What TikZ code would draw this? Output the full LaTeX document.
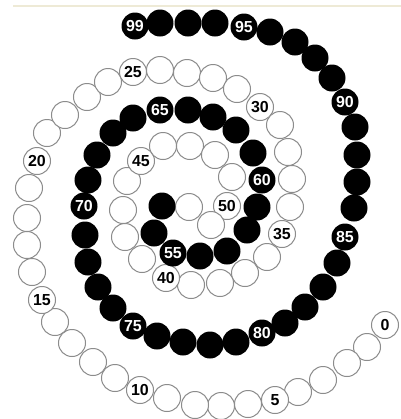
\documentclass[tikz,border=0pt]{standalone}
\usepackage{fontspec}
\setmainfont{Liberation Sans}
\definecolor{cream}{RGB}{238,234,214}

\begin{document}
\begin{tikzpicture}[x=1bp, y=-1bp,
    bead/.style={circle, minimum size=27bp, inner sep=0pt,
      font=\fontsize{16}{16}\selectfont\bfseries},
    lightbead/.style={bead, draw=gray!90, line width=1bp, fill=white, text=black},
    darkbead/.style={bead, fill=black, text=white}]
    \useasboundingbox (0,0) rectangle (401,419);

    % Linija viršuje
    \draw[cream, line width=1.5bp] (13,6) -- (401,6);

    % Balti karoliukai 0--52
    \foreach \px/\py [count=\n from 0] in {385/325, 367/347, 347/363, 323/380, 298/392,
        275/400, 248/404, 221/406, 195/405, 167/398, 140/390, 115/378, 93/362, 72/343,
        55/322, 42/300, 32/272, 27/245, 27/218, 29/188, 37/161, 47/133, 65/115, 87/97,
        108/82, 133/72, 160/70, 187/73, 213/78, 237/89, 260/107, 280/125, 288/152,
        292/179, 290/207, 282/234, 267/257, 245/273, 220/283, 191/285, 166/278,
        142/259, 125/237, 123/210, 127/181, 141/161, 163/146, 190/146, 215/155,
        232/177, 227/206, 211/225, 189/207} {
      \pgfmathtruncatemacro\r{mod(\n,5)}
      \ifnum\r=0 \def\lab{\n}\else\def\lab{}\fi
      \node[lightbead] (b\n) at (\px,\py) {\lab};
    }

    % Juodi karoliukai 53--99
    \foreach \px/\py [count=\n from 53] in {162/206, 154/233, 173/253, 200/256,
        227/251, 247/230, 257/207, 262/180, 253/153, 236/130, 213/117, 188/110,
        160/110, 133/118, 113/133, 97/155, 88/180, 84/206, 85/235, 88/262, 98/287,
        113/308, 133/326, 157/336, 183/342, 210/345, 236/342, 262/333, 285/323,
        305/307, 323/287, 337/263, 345/237, 354/208, 357/182, 357/155, 355/127,
        345/102, 332/78, 315/58, 295/42, 270/32, 244/27, 215/23, 188/23, 160/23,
        135/26} {
      \pgfmathtruncatemacro\r{mod(\n,5)}
      \ifnum\r=0 \def\lab{\n}\else\ifnum\n=99 \def\lab{\n}\else\def\lab{}\fi\fi
      \node[darkbead] (b\n) at (\px,\py) {\lab};
    }
\end{tikzpicture}
\end{document}
